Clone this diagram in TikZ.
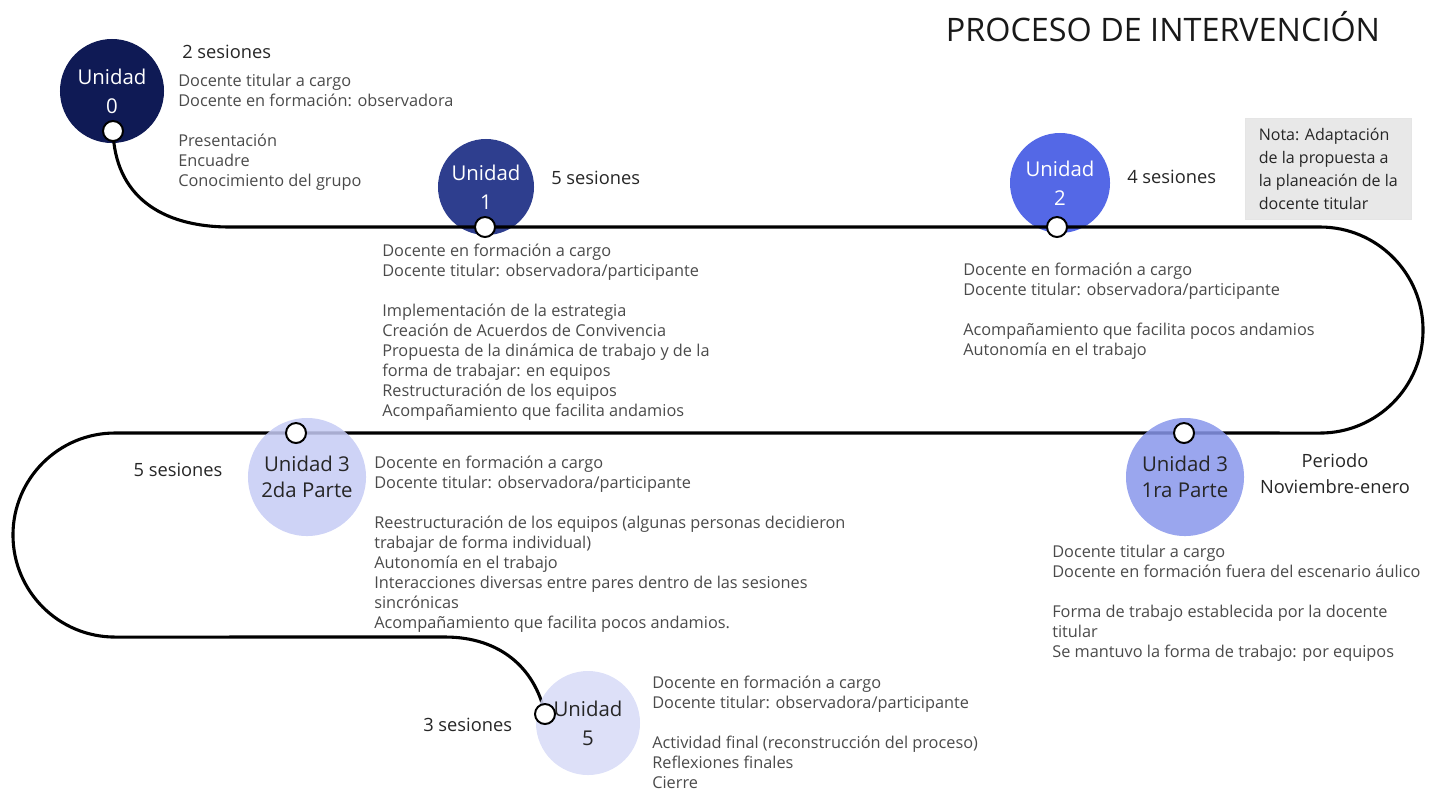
\documentclass[tikz,border=0pt]{standalone}
\usepackage{fontspec}
\setmainfont{Open Sans}
\definecolor{unitzero}{HTML}{0F1A55}
\definecolor{unitone}{HTML}{2E3E8E}
\definecolor{unittwo}{HTML}{5468E6}
\definecolor{unitthreea}{RGB}{136,150,235}
\definecolor{unitthreeb}{RGB}{198,203,245}
\definecolor{unitfive}{RGB}{215,219,247}
\definecolor{textgray}{HTML}{4A4A4A}
\definecolor{notegray}{HTML}{E8E8E8}
\tikzset{
  unit/.style={circle, inner sep=0pt, align=center, font=\fontsize{14.5}{20.5}\selectfont},
  dot/.style={circle, draw=black, line width=1.4pt, fill=white, minimum size=0.5cm, inner sep=0pt},
  route/.style={line width=2.2pt, line cap=round},
  block/.style={anchor=north west, align=left, inner sep=0pt, text=textgray, font=\fontsize{11.6}{14.2}\selectfont},
  count/.style={inner sep=0pt, text=black!85, font=\fontsize{13}{14}\selectfont},
}
\begin{document}
\begin{tikzpicture}[x=0.025cm, y=-0.025cm]
\useasboundingbox (0,0) rectangle (1440,791);
%
\node[font=\fontsize{23}{26}\selectfont, text=black!90] (title) at (1163,27) {PROCESO DE INTERVENCIÓN};
%
\node[unit, fill=unitzero, text=white, minimum size=2.6cm] (u0) at (112,91) {Unidad\\0};
\node[unit, fill=unitone, text=white, minimum size=2.4cm] (u1) at (486,187) {Unidad\\1};
\node[unit, fill=unittwo, text=white, minimum size=2.5cm] (u2) at (1060,183) {Unidad\\2};
%
\coordinate (p0) at (113,131);
\coordinate (p1) at (485,227);
\coordinate (p2) at (1057,227);
\coordinate (p3) at (1184,433);
\coordinate (p4) at (296,433);
\coordinate (p5) at (545,714);
\coordinate (c1) at (230,227);
\coordinate (c2) at (1320,227);
\coordinate (c3) at (115,433);
\coordinate (c4) at (445,637);
%
\draw[route] (p0) .. controls (115,195) and (160,227) .. (c1) -- (p1) -- (p2) -- (c2)
  arc[start angle=90, end angle=-90, radius=2.575cm] -- (p3) -- (p4) -- (c3)
  arc[start angle=90, end angle=270, radius=2.55cm] -- (c4)
  .. controls (500,637) and (535,668) .. (p5);
%
\node[unit, fill=unitthreea, fill opacity=0.85, text opacity=1, text=black!85, font=\fontsize{14.5}{18.4}\selectfont, minimum size=2.95cm] (u3a) at (1185,477) {Unidad 3\\1ra Parte};
\node[unit, fill=unitthreeb, fill opacity=0.85, text opacity=1, text=black!85, font=\fontsize{14.5}{18.4}\selectfont, minimum size=2.95cm] (u3b) at (307,477) {Unidad 3\\2da Parte};
\node[unit, fill=unitfive, fill opacity=0.85, text opacity=1, text=black!85, minimum size=2.6cm] (u5) at (588,723) {Unidad\\5};
%
\foreach \p in {0,1,2,3,4,5}
  \node[dot] (dot\p) at (p\p) {};
%
\node[count, anchor=west] (s0) at (182,52) {2 sesiones};
\node[count, anchor=west] (s1) at (551,178) {5 sesiones};
\node[count, anchor=west] (s2) at (1127,177) {4 sesiones};
\node[count] (s3b) at (178,470) {5 sesiones};
\node[count, anchor=west] (s5) at (423,725) {3 sesiones};
\node[count, align=center, font=\fontsize{13}{18.4}\selectfont] (period) at (1335,474) {Periodo\\Noviembre-enero};
%
\node[anchor=north west, fill=notegray, draw=gray!20, minimum width=4.15cm, minimum height=2.525cm,
  inner sep=0.25cm, align=left, text=black!85, font=\fontsize{11.4}{16.3}\selectfont]
  (note) at (1245,118) {Nota: Adaptación\\de la propuesta a\\la planeación de la\\docente titular};
%
\node[block] (b0) at (178,74) {Docente titular a cargo\\Docente en formación: observadora\\[0.5cm]
  Presentación\\Encuadre\\Conocimiento del grupo};
\node[block] (b1) at (382,244) {Docente en formación a cargo\\Docente titular: observadora/participante\\[0.5cm]
  Implementación de la estrategia\\Creación de Acuerdos de Convivencia\\
  Propuesta de la dinámica de trabajo y de la\\forma de trabajar: en equipos\\
  Restructuración de los equipos\\Acompañamiento que facilita andamios};
\node[block] (b2) at (963,263) {Docente en formación a cargo\\Docente titular: observadora/participante\\[0.5cm]
  Acompañamiento que facilita pocos andamios\\Autonomía en el trabajo};
\node[block] (b3a) at (1052,545) {Docente titular a cargo\\Docente en formación fuera del escenario áulico\\[0.5cm]
  Forma de trabajo establecida por la docente\\titular\\Se mantuvo la forma de trabajo: por equipos};
\node[block] (b3b) at (374,456) {Docente en formación a cargo\\Docente titular: observadora/participante\\[0.5cm]
  Reestructuración de los equipos (algunas personas decidieron\\trabajar de forma individual)\\
  Autonomía en el trabajo\\Interacciones diversas entre pares dentro de las sesiones\\sincrónicas\\
  Acompañamiento que facilita pocos andamios.};
\node[block] (b5) at (652,676) {Docente en formación a cargo\\Docente titular: observadora/participante\\[0.5cm]
  Actividad final (reconstrucción del proceso)\\Reflexiones finales\\Cierre};
\end{tikzpicture}
\end{document}
